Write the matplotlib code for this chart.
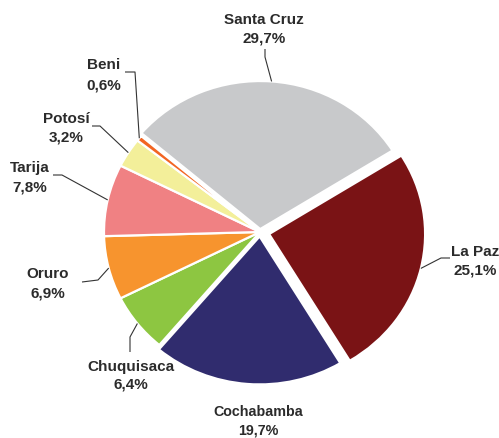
import numpy as np
import matplotlib
matplotlib.use("Agg")
import matplotlib.pyplot as plt

# Participación por departamento (%)
departamentos = ["Santa Cruz", "La Paz", "Cochabamba", "Chuquisaca",
                 "Oruro", "Tarija", "Potosí", "Beni"]
porcentajes = [29.7, 25.1, 19.7, 6.4, 6.9, 7.8, 3.2, 0.6]
colores = ["#C8C9CB", "#7A1315", "#302C6E", "#8DC641",
           "#F7942E", "#F08183", "#F3EF9A", "#F26522"]
separacion = [0.02, 0.06, 0.03, 0, 0, 0, 0, 0]

W, H = 499, 439
CX, CY = 260, 233          # centro del pastel en píxeles
RX, RY = 156, 148          # radios horizontal / vertical en píxeles
START = 139.6
TXT = "#2B2B2B"

plt.rcParams["font.family"] = ["Liberation Sans", "DejaVu Sans"]

fig = plt.figure(figsize=(W / 100, H / 100), dpi=100)
ax = fig.add_axes([0, 0, 1, 1])
ax.axis("off")


def px(x, y):
    """píxeles de la imagen -> coordenadas de datos"""
    return (x - CX) / RX, (CY - y) / RY


wedges, _ = ax.pie(porcentajes, colors=colores, startangle=START,
                   counterclock=False, explode=separacion, radius=1,
                   wedgeprops=dict(edgecolor="white", linewidth=1.6))
ax.set_xlim(-CX / RX, (W - CX) / RX)
ax.set_ylim(-(H - CY) / RY, CY / RY)
ax.set_aspect("auto")

# x del texto, líneas base de las dos líneas, codo de la guía (píxeles)
etiquetas = {
    "Santa Cruz": (264, (23.5, 42.5), [(265, 50), (265, 58)]),
    "La Paz": (475, (256.5, 274.5), [(450, 259), (441, 259)]),
    "Cochabamba": (258, (416, 435), None),
    "Chuquisaca": (131, (371, 389), [(130, 353), (130, 338)]),
    "Oruro": (48, (278, 298), [(82, 283), (98, 281)]),
    "Tarija": (30, (172, 192), [(53, 176), (62, 176)]),
    "Potosí": (66, (123, 142), [(92, 127), (100, 127)]),
    "Beni": (104, (69, 89), [(125, 73), (135, 73)]),
}

for w, nombre, val in zip(wedges, departamentos, porcentajes):
    tx, (b1, b2), guia = etiquetas[nombre]
    fs = 10.3 if nombre == "Cochabamba" else 11
    for texto, b in ((nombre, b1), (f"{val:.1f}%".replace(".", ","), b2)):
        ax.text(*px(tx, b), texto, ha="center", va="baseline",
                fontsize=fs, fontweight="bold", color=TXT)
    if guia is None:
        continue
    ang = np.deg2rad((w.theta1 + w.theta2) / 2)
    x0, y0 = w.center
    ancla = (x0 + np.cos(ang), y0 + np.sin(ang))
    pts = [px(*p) for p in guia] + [ancla]
    xs, ys = zip(*pts)
    ax.plot(xs, ys, color="#333333", lw=0.8, solid_capstyle="butt")

fig.savefig("out.png", dpi=100, facecolor="white")
